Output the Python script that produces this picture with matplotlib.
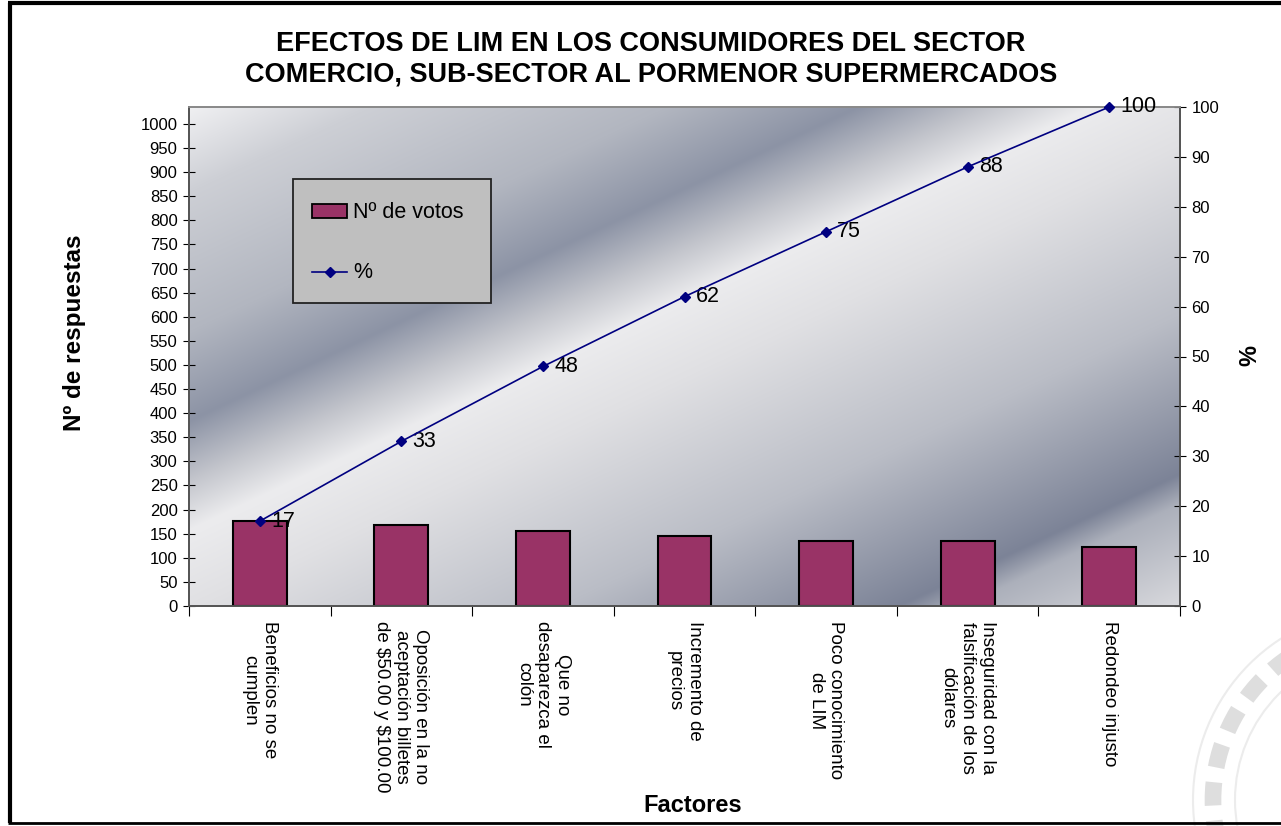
import numpy as np
import matplotlib
matplotlib.use("Agg")
import matplotlib.pyplot as plt
from matplotlib.patches import Rectangle, Circle
from matplotlib.lines import Line2D

plt.rcParams['font.family'] = ['Liberation Sans', 'DejaVu Sans']

# data
factores = [
    "Beneficios no se\ncumplen",
    "Oposición en la no\naceptación billetes\nde \\$50.00 y \\$100.00",
    "Que no\ndesaparezca el\ncolón",
    "Incremento de\nprecios",
    "Poco conocimiento\nde LIM",
    "Inseguridad con la\nfalsificación de los\ndólares",
    "Redondeo injusto",
]
votos = [176, 167, 155, 145, 135, 134, 123]
porcentaje = [17, 33, 48, 62, 75, 88, 100]
y_max_votos = 1035

titulo = "EFECTOS DE LIM EN LOS CONSUMIDORES DEL SECTOR\nCOMERCIO, SUB-SECTOR AL PORMENOR SUPERMERCADOS"

W, H = 1281, 826
fig = plt.figure(figsize=(W / 100, H / 100), dpi=100)

# plot area in pixels
x0, x1, y0, y1 = 189, 1180, 107, 606
ax = fig.add_axes([x0 / W, 1 - y1 / H, (x1 - x0) / W, (y1 - y0) / H])
ax2 = ax.twinx()

n = len(factores)
xs = np.arange(n)

# diagonal gradient background (Excel fill effect)
px, py = np.meshgrid(np.linspace(x0, x1, 500), np.linspace(y0, y1, 250))
t = py - (531 - 0.47 * (px - x0))
stops = [-430, -340, -200, -110, -50, 0, 80, 250, 410, 440, 560]
cols = np.array([
    (242, 242, 244), (205, 207, 213), (178, 182, 192), (140, 147, 165),
    (195, 197, 204), (236, 236, 238), (224, 224, 227), (186, 189, 198),
    (124, 131, 151), (172, 176, 187), (224, 224, 227)]) / 255.0
img = np.dstack([np.interp(t, stops, cols[:, k]) for k in range(3)])
ax.imshow(img, extent=(-0.5, n - 0.5, 0, y_max_votos), aspect='auto',
          origin='upper', zorder=0, interpolation='bilinear')

ax.bar(xs, votos, width=0.38, color='#993366', edgecolor='black',
       linewidth=1.5, zorder=3)
ax.set_xlim(-0.5, n - 0.5)
ax.set_ylim(0, y_max_votos)
ax.set_yticks(np.arange(0, 1001, 50))
ax.tick_params(axis='y', direction='inout', length=8.5, labelsize=12, pad=4)

ax.set_xticks(np.arange(n + 1) - 0.5)
ax.set_xticklabels([])
ax.tick_params(axis='x', which='major', direction='out', length=7.5)
ax.set_xticks(xs, factores, minor=True)
ax.tick_params(axis='x', which='minor', length=0, pad=11, labelsize=13.5)
for lab in ax.get_xticklabels(minor=True):
    lab.set_rotation(-90)
    lab.set_multialignment('center')
    lab.set_linespacing(1.2)

ax2.plot(xs, porcentaje, color='#000080', lw=1.2, marker='D', markersize=5,
         zorder=5, clip_on=False)
for xi, p in zip(xs, porcentaje):
    ax2.annotate(str(p), (xi, p), xytext=(8, 0), textcoords='offset points',
                 ha='left', va='center', fontsize=15.5, annotation_clip=False)
ax2.set_ylim(0, 100)
ax2.set_yticks(np.arange(0, 101, 10))
ax2.tick_params(axis='y', direction='inout', length=8.5, labelsize=12, pad=4)

for a in (ax, ax2):
    for s in a.spines.values():
        s.set_color('#555555')
        s.set_linewidth(1.3)
    a.spines['top'].set_color('#8a8a8a')

# overlay for title, axis titles, legend, frame and watermark
ov = fig.add_axes([0, 0, 1, 1], zorder=10)
ov.set_xlim(0, W)
ov.set_ylim(H, 0)
ov.axis('off')
ov.patch.set_alpha(0)

ov.text(651, 59, titulo, ha='center', va='center', fontsize=19.5,
        fontweight='bold', linespacing=1.2)
ov.text(75, 333, "Nº de respuestas", rotation=90, ha='center', va='center',
        fontsize=17.5, fontweight='bold')
ov.text(693, 805, "Factores", ha='center', va='center', fontsize=17,
        fontweight='bold')
ov.text(1250, 355, "%", rotation=90, ha='center', va='center', fontsize=17,
        fontweight='bold')

# legend box
ov.add_patch(Rectangle((293, 179), 198, 124, facecolor='#bfbfbf',
                       edgecolor='#222222', lw=1.3))
ov.add_patch(Rectangle((312, 204), 35, 14, facecolor='#993366',
                       edgecolor='black', lw=1.3))
ov.text(353, 212, "Nº de votos", ha='left', va='center', fontsize=15.5)
ov.add_line(Line2D([312, 347], [272, 272], color='#000080', lw=1.2))
ov.plot([330], [272], marker='D', color='#000080', markersize=5)
ov.text(353, 273, "%", ha='left', va='center', fontsize=15.5)

# watermark seal (faint)
ov.add_patch(Circle((1385, 800), 192, fill=False, ec='#ececec', lw=1.5))
ov.add_patch(Circle((1385, 800), 172, fill=False, ec='#dedede', lw=12,
                    ls=(0, (1.4, 0.9))))
ov.add_patch(Circle((1385, 800), 150, fill=False, ec='#ececec', lw=1.5))

# outer chart frame
ov.plot([10, 10], [3, 823], color='black', lw=3, solid_capstyle='butt')
ov.plot([8, W], [3, 3], color='black', lw=3, solid_capstyle='butt')
ov.plot([8, W], [823, 823], color='black', lw=2, solid_capstyle='butt')

fig.savefig("out.png", dpi=100)
